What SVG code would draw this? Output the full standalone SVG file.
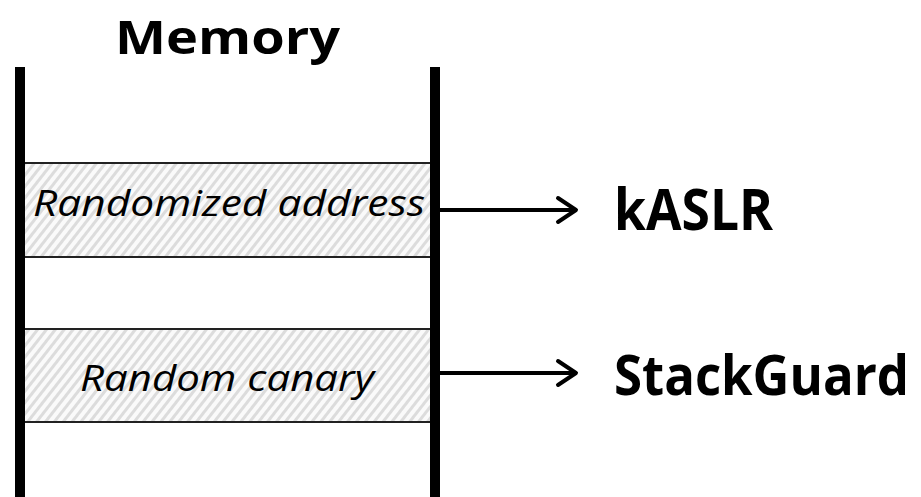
<svg xmlns="http://www.w3.org/2000/svg" width="921" height="497" viewBox="0 0 921 497">
  <style>
    .bar { stroke: #000; stroke-width: 10; }
    .sep { stroke: #222; stroke-width: 2; }
    .cell { font-family: "Open Sans", "Liberation Sans", Arial, sans-serif; font-style: italic; font-size: 37px; fill: #000; }
    .big { font-family: "Open Sans", "Liberation Sans", Arial, sans-serif; font-weight: bold; fill: #000; }
    .conn { stroke: #000; stroke-width: 4; fill: none; }
  </style>
  <defs>
    <pattern id="hatch" patternUnits="userSpaceOnUse" width="7" height="7" patternTransform="rotate(38)">
      <rect width="7" height="7" fill="#fafafa"/>
      <rect width="3" height="7" fill="#dcdcdc"/>
    </pattern>
  </defs>
  <rect width="921" height="497" fill="#fff"/>
  <g id="title">
    <text class="big" x="227.5" y="54" font-size="46" text-anchor="middle" textLength="225" lengthAdjust="spacingAndGlyphs">Memory</text>
  </g>
  <g id="memory">
    <rect x="20" y="163" width="415" height="94" fill="url(#hatch)"/>
    <rect x="20" y="329" width="415" height="93" fill="url(#hatch)"/>
    <line class="sep" x1="20" y1="163" x2="435" y2="163"/>
    <line class="sep" x1="20" y1="257" x2="435" y2="257"/>
    <line class="sep" x1="20" y1="329" x2="435" y2="329"/>
    <line class="sep" x1="20" y1="422" x2="435" y2="422"/>
    <line class="bar" x1="20" y1="67" x2="20" y2="497"/>
    <line class="bar" x1="435" y1="67" x2="435" y2="497"/>
  </g>
  <g id="randomized-address">
    <text class="cell" x="33" y="216" textLength="392" lengthAdjust="spacingAndGlyphs">Randomized address</text>
  </g>
  <g id="random-canary">
    <text class="cell" x="80" y="391" textLength="294" lengthAdjust="spacingAndGlyphs">Random canary</text>
  </g>
  <g id="kaslr">
    <text class="big" x="614" y="230" font-size="58" textLength="159" lengthAdjust="spacingAndGlyphs">kASLR</text>
  </g>
  <g id="stackguard">
    <text class="big" x="614" y="395" font-size="55" textLength="295" lengthAdjust="spacingAndGlyphs">StackGuard</text>
  </g>
  <g id="connectors">
    <line class="conn" x1="440" y1="210" x2="576" y2="210"/>
    <polyline class="conn" points="558,198 576,210 558,222" stroke-linecap="round" stroke-linejoin="round"/>
    <line class="conn" x1="440" y1="373" x2="576" y2="373"/>
    <polyline class="conn" points="558,361 576,373 558,385" stroke-linecap="round" stroke-linejoin="round"/>
  </g>
</svg>
